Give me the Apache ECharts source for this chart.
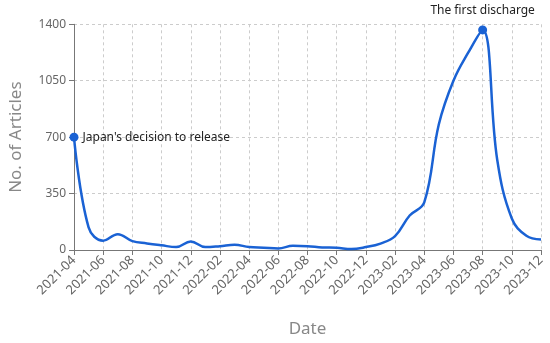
<!DOCTYPE html>
<html>
<head>
<meta charset="utf-8">
<script src="https://cdn.jsdelivr.net/npm/echarts@6/dist/echarts.min.js"></script>
<style>html,body{margin:0;padding:0;background:#fff}#c{width:550px;height:343px}</style>
</head>
<body>
<div id="c"></div>
<script>
const months = ["2021-04","2021-05","2021-06","2021-07","2021-08","2021-09","2021-10","2021-11","2021-12",
"2022-01","2022-02","2022-03","2022-04","2022-05","2022-06","2022-07","2022-08","2022-09","2022-10","2022-11","2022-12",
"2023-01","2023-02","2023-03","2023-04","2023-05","2023-06","2023-07","2023-08","2023-09","2023-10","2023-11","2023-12"];
const articles = [700,140,58,98,55,41,29,18,53,
18,24,33,18,14,10,26,24,16,14,6,18,
40,86,214,295,780,1050,1222,1365,560,195,88,65];
const annotations = {"2021-04":"Japan's decision to release","2023-08":"The first discharge"};
const yTicks = [0,350,700,1050,1400];

const font = "'Noto Sans', 'Open Sans', sans-serif";
const data = articles.map((v,i)=>{
  const m = months[i];
  if (!annotations[m]) return v;
  const first = i === 0;
  return {
    value: v,
    symbol: 'circle', symbolSize: 9,
    label: {show:true, formatter: annotations[m], position: first ? 'right' : 'top',
      distance: first ? 4 : 9, color:'#222', fontSize:12, fontFamily:font}
  };
});
const chart = echarts.init(document.getElementById('c'), null, {renderer:'canvas'});
chart.setOption({
  animation:false,
  grid:{left:69.6, right:9, top:24.3, bottom:89.5, containLabel:false},
  xAxis:{type:'category', data:months, boundaryGap:false,
    name:'Date', nameLocation:'middle', nameGap:71,
    nameTextStyle:{color:'#888', fontSize:17, fontFamily:font},
    axisLine:{lineStyle:{color:'#777', width:1}},
    axisTick:{interval:1, length:5, lineStyle:{color:'#777'}},
    axisLabel:{interval:1, rotate:45, color:'#666', fontSize:13, fontFamily:font, margin:8},
    splitLine:{show:true, interval:1, lineStyle:{color:'#ccc', type:[3,3]}}
  },
  yAxis:{type:'value', min:yTicks[0], max:yTicks[yTicks.length-1], interval:yTicks[1]-yTicks[0],
    name:'No. of Articles', nameLocation:'middle', nameGap:49,
    nameTextStyle:{color:'#888', fontSize:17, fontFamily:font},
    axisLine:{show:true, lineStyle:{color:'#777', width:1}},
    axisTick:{show:true, length:5, lineStyle:{color:'#777'}},
    axisLabel:{color:'#666', fontSize:12, fontFamily:font, margin:8, formatter:(v)=>String(v)},
    splitLine:{show:true, lineStyle:{color:'#ccc', type:[3,3]}}
  },
  series:[{type:'line', data:data, smooth:0.4, showSymbol:true, symbol:'none',
    lineStyle:{color:'#1a62d4', width:2.5}, itemStyle:{color:'#1a62d4'}}]
});
</script>
</body>
</html>
